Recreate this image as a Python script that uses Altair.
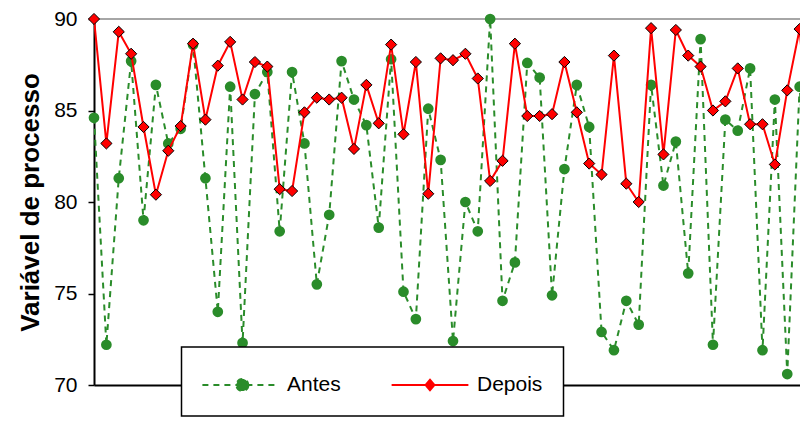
import altair as alt
import pandas as pd

# ---- data ----
index = list(range(59))
antes = [84.6, 72.2, 81.3, 87.7, 79.0, 86.4, 83.2, 84.0, 88.6, 81.3,
         74.0, 86.3, 72.3, 85.9, 87.1, 78.4, 87.1, 83.2, 75.5, 79.3,
         87.7, 85.6, 84.2, 78.6, 87.8, 75.1, 73.6, 85.1, 82.3, 72.4,
         80.0, 78.4, 90.0, 74.6, 76.7, 87.6, 86.8, 74.9, 81.8, 86.4,
         84.1, 72.9, 71.9, 74.6, 73.3, 86.4, 80.9, 83.3, 76.1, 88.9,
         72.2, 84.5, 83.9, 87.3, 71.9, 85.6, 70.6, 86.3, 76.0]
depois = [90.0, 83.2, 89.3, 88.1, 84.1, 80.4, 82.8, 84.15, 88.65, 84.5,
          87.45, 88.75, 85.6, 87.65, 87.4, 80.7, 80.6, 84.9, 85.7, 85.6,
          85.7, 82.9, 86.4, 84.3, 88.6, 83.7, 87.65, 80.45, 87.85, 87.75,
          88.1, 86.75, 81.15, 82.25, 88.65, 84.7, 84.7, 84.8, 87.65, 84.9,
          82.1, 81.5, 88.0, 81.0, 80.0, 89.5, 82.6, 89.4, 88.0, 87.4,
          85.0, 85.5, 87.3, 84.25, 84.25, 82.05, 86.1, 89.45, 81.5]
series = ["Antes", "Depois"]
y_ticks = [70, 75, 80, 85, 90]
y_title = "Variável de processo"

df = pd.DataFrame({
    "i": index + index,
    "v": antes + depois,
    "serie": ["Antes"] * len(antes) + ["Depois"] * len(depois),
})
top_df = pd.DataFrame({"v": [max(y_ticks)]})

GREEN = "#2a8c2a"
RED = "#ff0000"
FONT = "Liberation Sans"

x_scale = alt.Scale(domain=[0, 57.03], nice=False, zero=False)
y_scale = alt.Scale(domain=[70, 90], nice=False, zero=False)

x_enc = alt.X("i:Q", scale=x_scale,
              axis=alt.Axis(labels=False, ticks=False, title=None, grid=False,
                            domainColor="black", domainWidth=2))
y_enc = alt.Y("v:Q", scale=y_scale,
              axis=alt.Axis(values=y_ticks, title=y_title, grid=False,
                            titleFont=FONT, titleFontSize=26, titleFontWeight="bold",
                            titleColor="black", titlePadding=10,
                            labelFont=FONT, labelFontSize=21, labelColor="black",
                            labelPadding=11, labelFlush=False,
                            tickSize=6, tickColor="black", tickWidth=1.5,
                            domainColor="black", domainWidth=2))

base = alt.Chart(df)

top_rule = alt.Chart(top_df).mark_rule(color="#a6a6a6", strokeWidth=2).encode(
    y=alt.Y("v:Q", scale=y_scale))

line_a = base.transform_filter("datum.serie == 'Antes'").mark_line(
    color=GREEN, strokeWidth=2, strokeDash=[6, 5], clip=True
).encode(x=x_enc, y=y_enc)

pts_a = base.transform_filter("datum.serie == 'Antes' && datum.i <= 57").mark_point(
    shape="circle", filled=True, color=GREEN, size=115, opacity=1
).encode(x=x_enc, y=y_enc)

line_d = base.transform_filter("datum.serie == 'Depois'").mark_line(
    color=RED, strokeWidth=2, clip=True
).encode(x=x_enc, y=y_enc)

pts_d = base.transform_filter("datum.serie == 'Depois' && datum.i <= 57").mark_point(
    shape="diamond", filled=True, color=RED, stroke="black", strokeWidth=1,
    size=125, opacity=1
).encode(x=x_enc, y=y_enc)

# legend symbols: line with marker (custom paths, unit = sqrt(symbolSize)/2 px)
path_antes = ("M-2.35,0L2.35,0M0.525,0A0.375,0.375,0,1,1,-0.225,0"
              "A0.375,0.375,0,1,1,0.525,0Z")
path_depois = "M-2.4,0L2.4,0M-0.27,0L0,-0.33L0.27,0L0,0.33Z"

leg = alt.Legend(title=None, orient="none", legendX=87.5, legendY=328,
                 direction="horizontal", padding=21, fillColor="white",
                 strokeColor="black", symbolSize=1024, symbolStrokeWidth=2,
                 symbolOffset=20.5, labelOffset=30, columnPadding=46,
                 labelFont=FONT, labelFontSize=21, labelColor="black",
                 symbolOpacity=1, zindex=3)

legend_layer = base.transform_filter("false").mark_point(filled=True, opacity=1).encode(
    x=x_enc, y=y_enc,
    fill=alt.Fill("serie:N", scale=alt.Scale(domain=series, range=[GREEN, RED]), legend=leg),
    stroke=alt.Stroke("serie:N", scale=alt.Scale(domain=series, range=[GREEN, RED]), legend=leg),
    shape=alt.Shape("serie:N", scale=alt.Scale(domain=series, range=[path_antes, path_depois]), legend=leg),
    strokeDash=alt.StrokeDash("serie:N", scale=alt.Scale(domain=series, range=[[6, 5], [1, 0]]), legend=leg),
)

chart = alt.layer(top_rule, line_a, pts_a, line_d, pts_d, legend_layer).properties(
    width=706, height=366,
    autosize=alt.AutoSizeParams(type="none"),
    padding={"left": 86, "top": 11, "right": 0, "bottom": 36},
    background="white",
).configure_view(stroke=None).configure_legend(strokeWidth=1.5, cornerRadius=0)

chart.save("out.html", embed_options={"renderer": "svg", "actions": False})
